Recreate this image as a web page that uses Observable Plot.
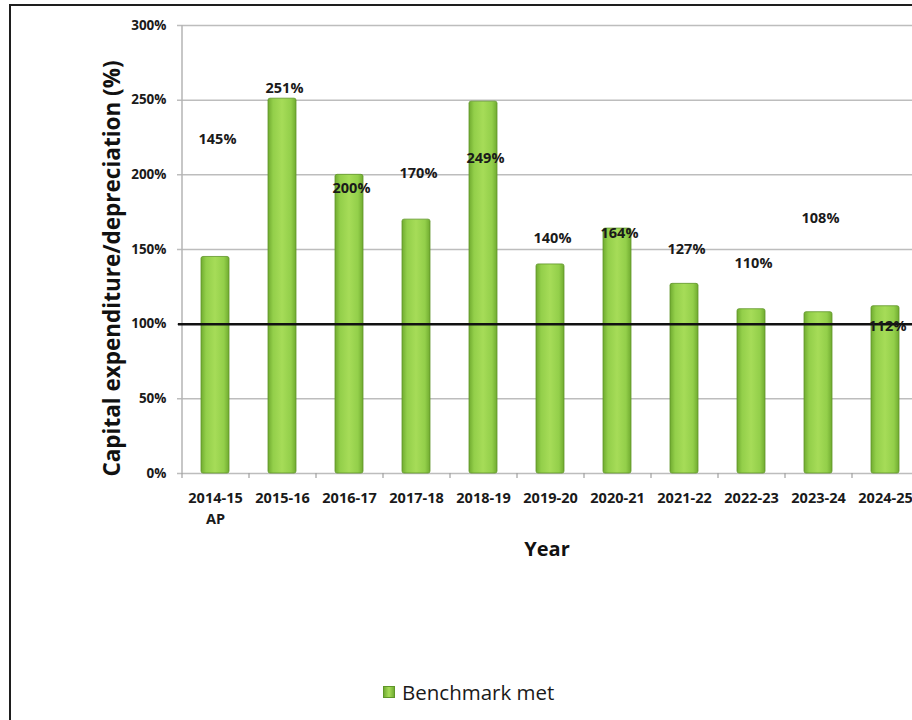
<!DOCTYPE html>
<html>
<head>
<meta charset="utf-8">
<script src="https://cdn.jsdelivr.net/npm/d3@7"></script>
<script src="https://cdn.jsdelivr.net/npm/@observablehq/plot@0.6"></script>
<style>
  html, body { margin: 0; padding: 0; background: #fff; overflow: hidden; width: 912px; height: 720px; }
  #wrap { position: relative; width: 912px; height: 720px; overflow: hidden; }
  #chart { position: absolute; left: 0; top: 0; }
  #frame { position: absolute; left: 9px; top: 4px; width: 1000px; height: 800px; border: 2.5px solid #1e1e1e; box-sizing: border-box; pointer-events: none; }
  #legend { position: absolute; left: 383px; top: 678px; font-family: "Open Sans", sans-serif; font-size: 20.5px; color: #1a1a1a; display: flex; align-items: center; }
  #legend .sw { width: 12px; height: 12px; margin-right: 7px; background: linear-gradient(90deg, #72ad34, #a8dd58 50%, #72ad34); border: 1px solid #5f9628; box-sizing: border-box; }
</style>
</head>
<body>
<div id="wrap">
  <div id="chart"></div>
  <div id="legend"><span class="sw"></span><span>Benchmark met</span></div>
  <div id="frame"></div>
</div>
<script>
const years = ["2014-15 AP", "2015-16", "2016-17", "2017-18", "2018-19", "2019-20", "2020-21", "2021-22", "2022-23", "2023-24", "2024-25"];
const tickLabels = ["2014-15\nAP", "2015-16", "2016-17", "2017-18", "2018-19", "2019-20", "2020-21", "2021-22", "2022-23", "2023-24", "2024-25"];
const values = [145, 251, 200, 170, 249, 140, 164, 127, 110, 108, 112];
// where each value label sits (in % units), as placed in the original
const labelPos = [224, 257.6, 191.2, 201.2, 211.3, 157.4, 161, 150, 140.6, 170.8, 98.4];
const yTicks = [0, 50, 100, 150, 200, 250, 300];
const benchmark = 100;
const yTitle = "Capital expenditure/depreciation (%)";
const xTitle = "Year";

const data = years.map((y, i) => ({year: y, value: values[i], label: values[i] + "%", pos: labelPos[i], tick: tickLabels[i]}));

const font = "'Open Sans', sans-serif";
const halfStep = 33.5;

const chart = Plot.plot({
  width: 912,
  height: 650,
  marginLeft: 181,
  marginTop: 25,
  marginBottom: 177,
  marginRight: 0,
  style: {fontFamily: font, background: "transparent", overflow: "visible"},
  x: {domain: years, range: [181, 919], paddingInner: 0.58, paddingOuter: 0.29, axis: null},
  y: {domain: [0, 300], range: [473, 25], axis: null},
  marks: [
    Plot.gridY(yTicks, {stroke: "#bdbdbd", strokeOpacity: 1, strokeWidth: 1.5, insetLeft: -4}),
    Plot.axisY(yTicks, {tickSize: 0, tickPadding: 15, tickFormat: d => d + "%", fontSize: 13.5, fontWeight: "bold", fill: "#1a1a1a", label: null}),
    Plot.ruleX([years[0]], {x: d => d, dx: -halfStep, stroke: "#b5b5b5", strokeWidth: 1.5}),
    Plot.ruleX(years, {x: d => d, dx: -halfStep, y1: 0, y2: 0, insetBottom: -5, stroke: "#a0a0a0", strokeWidth: 1.2}),
    Plot.barY(data, {x: "year", y: "value", fill: "url(#barGrad)", stroke: "#5f9628", strokeWidth: 0.8, rx: 2}),
    Plot.ruleY([benchmark], {stroke: "#111", strokeWidth: 2.5, insetLeft: -3}),
    Plot.text(data, {x: "year", y: "pos", text: "label", dx: 2, fontSize: 14.5, fontWeight: "bold", fill: "#1a1a1a"}),
    Plot.text(data, {x: "year", text: "tick", frameAnchor: "bottom", lineAnchor: "top", dy: 15, lineHeight: 1.45, fontSize: 14.5, fontWeight: "bold", fill: "#1a1a1a"}),
    Plot.text([xTitle], {frameAnchor: "bottom", dy: 82, fontSize: 20, fontWeight: "bold", fill: "#111"}),
    Plot.text([yTitle], {frameAnchor: "left", textAnchor: "middle", rotate: -90, dx: -69, dy: 19, fontSize: 22.5, fontWeight: "bold", fill: "#111"})
  ]
});

// gradient for the bevelled green bars
const ns = "http://www.w3.org/2000/svg";
const defs = document.createElementNS(ns, "defs");
defs.innerHTML = `<linearGradient id="barGrad" x1="0" x2="1" y1="0" y2="0">
  <stop offset="0" stop-color="#70ab30"/>
  <stop offset="0.18" stop-color="#93cf4a"/>
  <stop offset="0.5" stop-color="#a6dc58"/>
  <stop offset="0.82" stop-color="#93cf4a"/>
  <stop offset="1" stop-color="#70ab30"/>
</linearGradient>`;
chart.insertBefore(defs, chart.firstChild);
document.getElementById("chart").appendChild(chart);
</script>
</body>
</html>
